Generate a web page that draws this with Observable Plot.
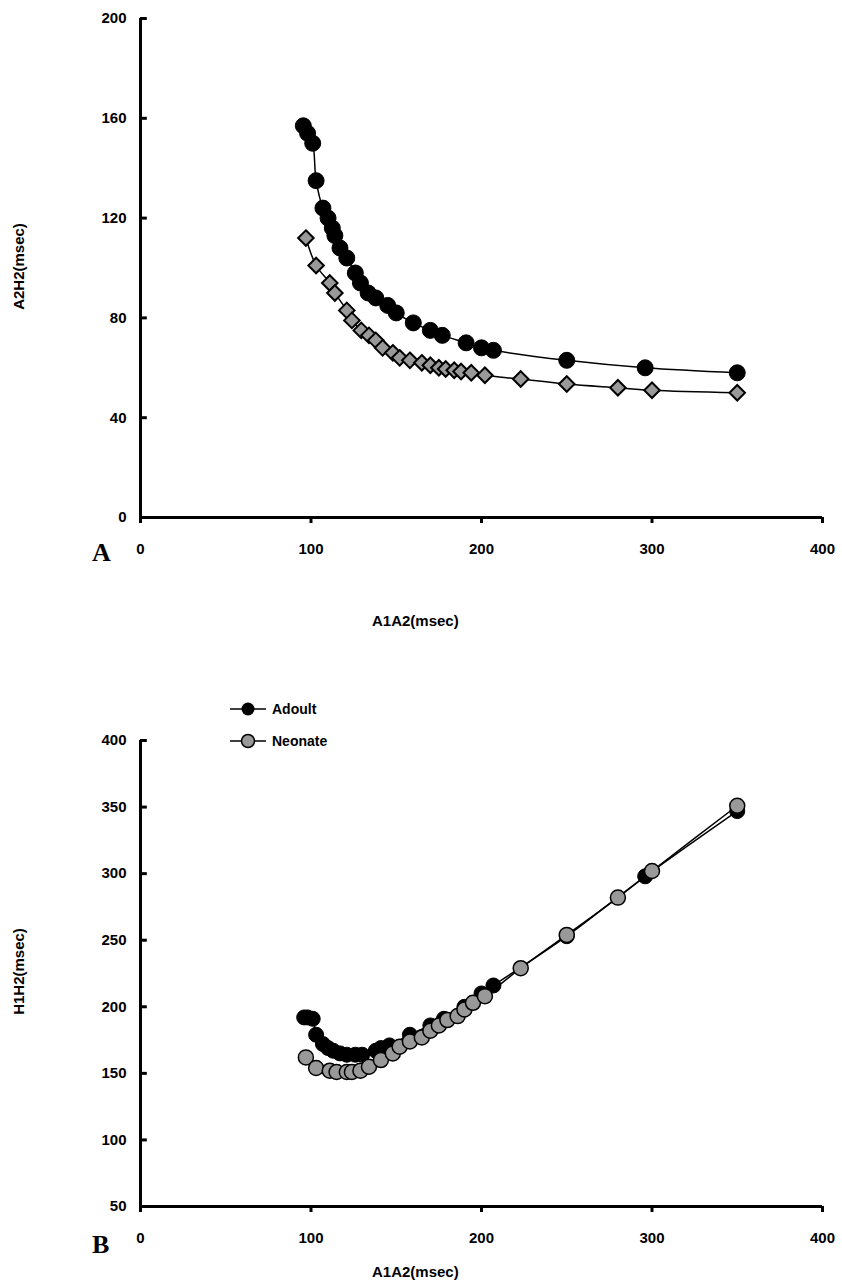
<!DOCTYPE html>
<html><head><meta charset="utf-8">
<script src="https://cdn.jsdelivr.net/npm/d3@7"></script>
<script src="https://cdn.jsdelivr.net/npm/@observablehq/plot@0.6"></script>
<style>
body{margin:0;background:#fff;font-family:"Liberation Sans",Arial,sans-serif;}
#wrap{position:relative;width:842px;height:1287px;}
.pl{position:absolute;left:0;}
.lab{position:absolute;font-weight:bold;font-size:15px;white-space:nowrap;}
.big{position:absolute;font-family:"Liberation Serif",serif;font-weight:bold;font-size:26px;}
</style></head><body><div id="wrap"></div>
<script>
const adultAx=[95.5,98,101,103,107,110,112.5,114,117,121,126,129,133.5,138,145,150,160,170,177,191,200,207,250,296,350];
const adultAy=[157,154,150,135,124,120,116,113,108,104,98,94,90,88,85,82,78,75,73,70,68,67,63,60,58];
const neoAx=[97,103,111,114,121,124,129.5,134,138,142,148,152,158,165,170,175,179,184,188,194,202,223,250,280,300,350];
const neoAy=[112,101,94,90,83,79,75,73,71,68,66,64,63,62,61,60,59.5,59,58.5,58,57,55.5,53.5,52,51,50];
const adultBx=[96,98,101,103,107,110,113,117,121,126,130,138,141,146,158,170,178,190,200,207,250,296,350];
const adultBy=[192,192,191,179,172,169,167,165,164,164,164,167,169,171,179,186,191,200,210,216,253,298,347];
const neoBx=[97,103,111,115,121,124,129,134,141,148,152,158,165,170,175,180,186,190,195,202,223,250,280,300,350];
const neoBy=[162,154,152,151,151,151,152,155,160,165,170,174,177,182,186,190,193,198,203,208,229,254,282,302,351];
const xTicks=[0,100,200,300,400];
const yTicksA=[0,40,80,120,160,200];
const yTicksB=[50,100,150,200,250,300,350,400];

const zip=(xs,ys)=>xs.map((x,i)=>({x,y:ys[i]}));
const wrap=document.getElementById("wrap");
function panel(top,height,mt,mb,ydom,yt,series){
  const [y0,y1]=ydom; const ky=(y1-y0)/(height-mt-mb);
  const marks=[
    Plot.axisX({ticks:xTicks,tickSize:0,tickPadding:26,fontSize:15,fontWeight:"bold",label:null}),
    Plot.axisY({ticks:yt,tickSize:0,tickPadding:14,fontSize:15,fontWeight:"bold",label:null}),
    Plot.ruleY(yt,{x1:0,x2:4,strokeWidth:3}),
    Plot.ruleX(xTicks,{y1:y0,y2:y0-6*ky,strokeWidth:3}),
    Plot.ruleX([0],{strokeWidth:3}),
    Plot.ruleY([y0],{strokeWidth:3})
  ];
  for(const s of series){
    marks.push(Plot.line(s.d,{x:"x",y:"y",curve:"catmull-rom",stroke:"#000",strokeWidth:1.5}));
    marks.push(Plot.dot(s.d,{x:"x",y:"y",r:s.r,fill:s.fill,stroke:"#000",strokeWidth:s.sw,symbol:s.sym}));
  }
  const svg=Plot.plot({width:842,height,marginTop:mt,marginBottom:mb,marginLeft:140,marginRight:20,
    x:{domain:[0,400]},y:{domain:ydom},style:{fontFamily:"Liberation Sans, Arial, sans-serif",color:"#000"},marks});
  svg.classList.add("pl"); svg.style.top=top+"px"; wrap.appendChild(svg);
}
panel(0,640,18,123,[0,200],yTicksA,[
  {d:zip(adultAx,adultAy),r:8,fill:"#000",sw:1,sym:"circle"},
  {d:zip(neoAx,neoAy),r:7,fill:"#999",sw:2,sym:"diamond2"}]);
panel(640,647,100,81,[50,400],yTicksB,[
  {d:zip(adultBx,adultBy),r:7.5,fill:"#000",sw:1,sym:"circle"},
  {d:zip(neoBx,neoBy),r:7.5,fill:"#999",sw:1.5,sym:"circle"}]);

function add(html,cls,css){const e=document.createElement("div");e.className=cls;e.textContent=html;Object.assign(e.style,css);wrap.appendChild(e);}
add("A","big",{left:"92px",top:"538px"});
add("B","big",{left:"92px",top:"1230px"});
add("A1A2(msec)","lab",{left:"372px",top:"612px"});
add("A1A2(msec)","lab",{left:"372px",top:"1263px"});
add("A2H2(msec)","lab",{left:"-28px",top:"258px",width:"92px",textAlign:"center",transform:"rotate(-90deg)"});
add("H1H2(msec)","lab",{left:"-28px",top:"963px",width:"92px",textAlign:"center",transform:"rotate(-90deg)"});
const leg=document.createElementNS("http://www.w3.org/2000/svg","svg");
leg.setAttribute("width",160);leg.setAttribute("height",50);
leg.style.position="absolute";leg.style.left="230px";leg.style.top="699px";
leg.innerHTML=`<line x1="0" x2="36" y1="10" y2="10" stroke="#000" stroke-width="1.5"/><circle cx="18" cy="10" r="6.5" fill="#000"/>
<text x="42" y="15" font-size="14" font-weight="bold" font-family="Liberation Sans">Adoult</text>
<line x1="0" x2="36" y1="42" y2="42" stroke="#000" stroke-width="1.5"/><circle cx="18" cy="42" r="6.5" fill="#999" stroke="#000" stroke-width="1.5"/>
<text x="42" y="47" font-size="14" font-weight="bold" font-family="Liberation Sans">Neonate</text>`;
wrap.appendChild(leg);
</script></body></html>
